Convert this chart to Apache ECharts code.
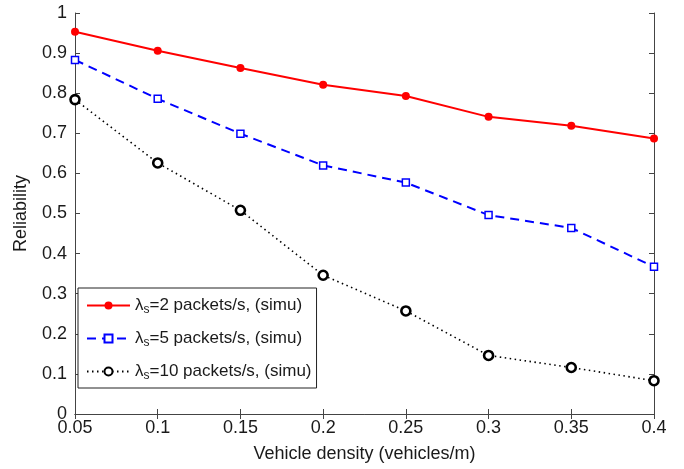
<!DOCTYPE html>
<html>
<head>
<meta charset="utf-8">
<script src="https://cdn.jsdelivr.net/npm/echarts@6/dist/echarts.min.js"></script>
<style>
html,body{margin:0;padding:0;background:#fff;}
#chart{width:684px;height:469px;}
</style>
</head>
<body>
<div id="chart"></div>
<script>
const categories = ['0.05','0.1','0.15','0.2','0.25','0.3','0.35','0.4'];
const yTicks = [0,0.1,0.2,0.3,0.4,0.5,0.6,0.7,0.8,0.9,1];
const lambda2 = [0.953, 0.906, 0.863, 0.821, 0.793, 0.741, 0.719, 0.687];
const lambda5 = [0.883, 0.786, 0.699, 0.620, 0.577, 0.496, 0.464, 0.367];
const lambda10 = [0.784, 0.626, 0.508, 0.346, 0.257, 0.146, 0.116, 0.083];
const seriesNames = ['l2','l5','l10'];
const legendLabels = {l2:'2', l5:'5', l10:'10'};

const FONT = 'Liberation Sans';
const chart = echarts.init(document.getElementById('chart'), null, {renderer:'canvas'});
const axisCol = '#444';
const txtCol = '#1a1a1a';
const opt = {
  backgroundColor:'#fff',
  animation:false,
  grid:{left:75, right:30, top:13, bottom:55},
  xAxis:[{
    type:'category', data:categories, boundaryGap:false, position:'bottom',
    name:'Vehicle density (vehicles/m)', nameLocation:'middle', nameGap:31,
    nameTextStyle:{fontFamily:FONT, fontSize:18, color:txtCol},
    axisLine:{lineStyle:{color:axisCol, width:1}},
    axisTick:{inside:true, length:5, lineStyle:{color:axisCol}, alignWithLabel:true},
    axisLabel:{fontFamily:FONT, fontSize:18, color:txtCol, margin:5},
    splitLine:{show:false}
  },{
    type:'category', data:categories, boundaryGap:false, position:'top',
    axisLine:{lineStyle:{color:axisCol, width:1}},
    axisTick:{inside:true, length:5, lineStyle:{color:axisCol}},
    axisLabel:{show:false}, splitLine:{show:false}
  }],
  yAxis:[{
    type:'value', min:0, max:1, interval:0.1, position:'left',
    name:'Reliability', nameLocation:'middle', nameGap:45, nameRotate:90,
    nameTextStyle:{fontFamily:FONT, fontSize:18, color:txtCol},
    axisLine:{show:true, lineStyle:{color:axisCol, width:1}},
    axisTick:{show:true, inside:true, length:5, lineStyle:{color:axisCol}},
    axisLabel:{fontFamily:FONT, fontSize:18, color:txtCol, margin:8,
      formatter:function(v){return String(Math.round(v*10)/10);}},
    splitLine:{show:false}
  },{
    type:'value', min:0, max:1, interval:0.1, position:'right',
    axisLine:{show:true, lineStyle:{color:axisCol, width:1}},
    axisTick:{show:true, inside:true, length:5, lineStyle:{color:axisCol}},
    axisLabel:{show:false}, splitLine:{show:false}
  }],
  legend:{
    show:true, orient:'vertical', left:78, top:288,
    data:seriesNames,
    backgroundColor:'#fff', borderColor:'#222', borderWidth:1,
    padding:[7,5,6,8], itemGap:12, itemWidth:43, itemHeight:10,
    formatter:function(n){return '{a|λ}{s|s}{a|=' + legendLabels[n] + ' packets/s, (simu)}';},
    textStyle:{
      fontFamily:FONT, fontSize:17, color:txtCol, lineHeight:20,
      rich:{
        a:{fontFamily:FONT, fontSize:17, color:txtCol, lineHeight:20},
        s:{fontFamily:FONT, fontSize:12, color:txtCol, lineHeight:20, padding:[9,0,0,0]}
      }
    }
  },
  series:[{
    name:'l2', type:'line', data:lambda2,
    symbol:'circle', symbolSize:8, z:3,
    lineStyle:{color:'#ff0000', width:2, type:'solid'},
    itemStyle:{color:'#ff0000'}
  },{
    name:'l5', type:'line', data:lambda5,
    symbol:'rect', symbolSize:7, z:2,
    lineStyle:{color:'#0000ff', width:2, type:[9,6]},
    itemStyle:{color:'#fff', borderColor:'#0000ff', borderWidth:1.5}
  },{
    name:'l10', type:'line', data:lambda10,
    symbol:'circle', symbolSize:9, z:1,
    lineStyle:{color:'#000', width:1.6, type:[1.5,3.5]},
    itemStyle:{color:'#fff', borderColor:'#000', borderWidth:2.6}
  }]
};
chart.setOption(opt);
</script>
</body>
</html>
